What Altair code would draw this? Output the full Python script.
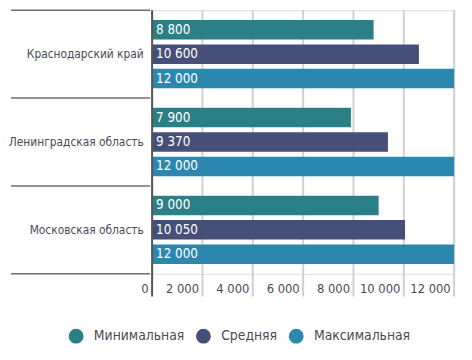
import altair as alt
import pandas as pd

regions = ["Краснодарский край", "Ленинградская область", "Московская область"]
series = ["Минимальная", "Средняя", "Максимальная"]
values_min = [8800, 7900, 9000]
values_avg = [10600, 9370, 10050]
values_max = [12000, 12000, 12000]
colors = ["#2b7f86", "#464f78", "#2c87ae"]
ticks = [0, 2000, 4000, 6000, 8000, 10000, 12000]
dividers = [0, 1, 2, 3]

rows = []
for i, r in enumerate(regions):
    for s, vals in zip(series, [values_min, values_avg, values_max]):
        rows.append({"region": r, "series": s, "value": vals[i]})
df = pd.DataFrame(rows)

FONT = "DejaVu Sans Condensed"
TXT = "#484a55"
W, H = 306, 267

xscale = alt.Scale(domain=[0, 12000], nice=False, zero=True)
x_axis = alt.Axis(title=None, grid=False, domain=False, ticks=False, values=ticks,
                  labelAlign="right", labelOffset=-4, labelPadding=9, labelFontSize=13,
                  labelColor=TXT, labelFont=FONT, labelFlush=False,
                  labelExpr="replace(format(datum.value, ','), ',', ' ')")

y_enc = alt.Y("region:N", sort=regions, scale=alt.Scale(paddingInner=0, paddingOuter=0),
              axis=alt.Axis(title=None, domain=False, ticks=False, labelPadding=9,
                            labelFontSize=12, labelColor=TXT, labelFont=FONT, labelLimit=200))
yoff = alt.YOffset("series:N", sort=series,
                   scale=alt.Scale(paddingInner=0.2, paddingOuter=0.4))

grid_df = pd.DataFrame({"value": ticks[1:]})
grid = alt.Chart(grid_df).mark_rule(color="#d0d0d0", strokeWidth=2).encode(
    x=alt.X("value:Q", scale=xscale, axis=x_axis),
    y=alt.value(0), y2=alt.value(H + 23))

zero = alt.Chart(pd.DataFrame({"value": [0]})).mark_rule(color="#555555", strokeWidth=2).encode(
    x=alt.X("value:Q", scale=xscale, axis=x_axis),
    y=alt.value(0), y2=alt.value(H + 23))

bars = alt.Chart(df).mark_bar().encode(
    x=alt.X("value:Q", scale=xscale, axis=x_axis),
    y=y_enc,
    yOffset=yoff,
    color=alt.Color("series:N", sort=series, scale=alt.Scale(domain=series, range=colors),
                    legend=alt.Legend(title=None, orient="none", direction="horizontal",
                                      legendX=-85, legendY=322, symbolType="circle",
                                      symbolSize=227, symbolStrokeWidth=0, labelFontSize=14,
                                      labelColor=TXT, labelFont=FONT, labelOffset=10,
                                      columnPadding=11, padding=0)),
)

labels = alt.Chart(df).transform_calculate(
    lab="replace(format(datum.value, ','), ',', ' ')"
).mark_text(align="left", baseline="middle", color="white", fontSize=13.5, font=FONT, dx=4).encode(
    x=alt.value(0),
    y=alt.Y("region:N", sort=regions),
    yOffset=yoff,
    text="lab:N")

div = alt.Chart(pd.DataFrame({"d": dividers})).mark_rule(color="#6f6f6f", strokeWidth=1.5).encode(
    x=alt.value(-143), x2=alt.value(-2),
    y=alt.Y("d:Q", scale=alt.Scale(domain=[0, 3], nice=False, zero=False), axis=None))

main = alt.layer(grid, bars, labels, zero)

chart = alt.layer(main, div).resolve_scale(y="independent").properties(
    width=W, height=H,
    autosize=alt.AutoSizeParams(type="none"),
    padding={"left": 146, "top": 0, "right": 10, "bottom": 77},
).configure_view(stroke=None).configure(font=FONT)

chart.save("out.html", embed_options={"renderer": "svg", "actions": False})
